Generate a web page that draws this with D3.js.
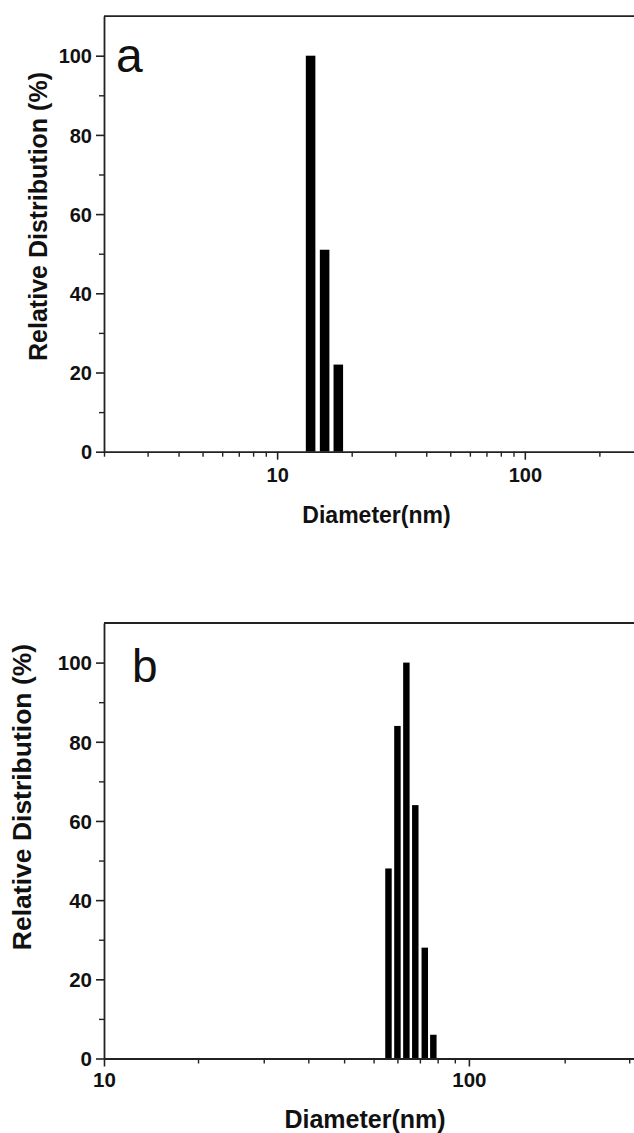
<!DOCTYPE html>
<html>
<head>
<meta charset="utf-8">
<script src="https://cdn.jsdelivr.net/npm/d3@7"></script>
<style>
  html, body { margin: 0; padding: 0; background: #fff; }
  svg { display: block; }
  text { font-family: "Liberation Sans", Arial, sans-serif; fill: #111; }
</style>
</head>
<body>
<script>
// ---------- data ----------
const panelA_diameter = [13.65, 15.55, 17.66];
const panelA_distribution = [100, 51, 22];
const panelB_diameter = [60.2, 63.7, 67.4, 71.3, 75.7, 79.9];
const panelB_distribution = [48, 84, 100, 64, 28, 6];

const yTicks = [0, 20, 40, 60, 80, 100];
const yMinorTicks = [10, 30, 50, 70, 90];

const panelA_xMajor = [10, 100];
const panelA_xMinor = [2, 3, 4, 5, 6, 7, 8, 9, 20, 30, 40, 50, 60, 70, 80, 90, 200];
const panelB_xMajor = [10, 100];
const panelB_xMinor = [18.1, 27.4, 36.3, 45.5, 54.8, 63.7, 73.4, 82.1, 91.5, 183, 275];

const xTitle = "Diameter(nm)";
const yTitle = "Relative Distribution (%)";

// ---------- layout ----------
const W = 634, H = 1133;
const svg = d3.select("body").append("svg").attr("width", W).attr("height", H);

const panels = [
  { letter: "a", diam: panelA_diameter, dist: panelA_distribution,
    xDomain: [2, 300], xMajor: panelA_xMajor, xMinor: panelA_xMinor,
    left: 104, right: 643, bottom: 451.7, top: 16.1,
    tickFont: 20, xLabelBase: 30, xTitleFont: 23, xTitlePos: [376.5, 523],
    yTitleFont: 25, yTitlePos: [47, 216.5],
    letterFont: 48, letterPos: [116, 72], barFrac: 0.69 },
  { letter: "b", diam: panelB_diameter, dist: panelB_distribution,
    xDomain: [10, 300], xMajor: panelB_xMajor, xMinor: panelB_xMinor,
    left: 104, right: 643, bottom: 1058.5, top: 623,
    tickFont: 20.5, xLabelBase: 28, xTitleFont: 25, xTitlePos: [365, 1128],
    yTitleFont: 26.5, yTitlePos: [31, 797],
    letterFont: 46, letterPos: [132, 682], barFrac: 0.72 }
];

const axisColor = "#222";

panels.forEach(p => {
  const x = d3.scaleLog().domain(p.xDomain).range([p.left, p.right]);
  const y = d3.scaleLinear().domain([0, 110]).range([p.bottom, p.top]);
  const g = svg.append("g");

  // bars
  const n = p.diam.length;
  const step = Math.log10(p.diam[n - 1] / p.diam[0]) / (n - 1);
  const half = p.barFrac * step / 2;
  const data = p.diam.map((d, i) => ({ d, v: p.dist[i] }));
  g.selectAll("rect.bar").data(data).enter().append("rect")
    .attr("class", "bar")
    .attr("x", e => x(e.d * Math.pow(10, -half)))
    .attr("width", e => x(e.d * Math.pow(10, half)) - x(e.d * Math.pow(10, -half)))
    .attr("y", e => y(e.v))
    .attr("height", e => y(0) - y(e.v))
    .attr("fill", "#000");

  // x axis: minor ticks
  const xMinorAxis = d3.axisBottom(x).tickValues(p.xMinor).tickSize(5).tickSizeOuter(0).tickFormat("");
  const gxm = g.append("g").attr("transform", `translate(0,${p.bottom})`).call(xMinorAxis);
  gxm.select(".domain").remove();
  gxm.selectAll("line").attr("stroke", axisColor).attr("stroke-width", 1.4);

  // x axis: major ticks + labels
  const xAxis = d3.axisBottom(x).tickValues(p.xMajor).tickSize(8).tickSizeOuter(0)
    .tickFormat(d3.format("d"));
  const gx = g.append("g").attr("transform", `translate(0,${p.bottom})`).call(xAxis);
  gx.select(".domain").attr("stroke", axisColor).attr("stroke-width", 1.8);
  gx.selectAll("line").attr("stroke", axisColor).attr("stroke-width", 1.6);
  gx.selectAll("text")
    .attr("y", p.xLabelBase).attr("dy", null)
    .style("font-size", p.tickFont + "px").style("font-weight", "bold")
    .style("font-family", "'Liberation Sans', Arial, sans-serif").attr("fill", "#111");

  // y axis: minor ticks
  const yMinorAxis = d3.axisLeft(y).tickValues(yMinorTicks).tickSize(5).tickSizeOuter(0).tickFormat("");
  const gym = g.append("g").attr("transform", `translate(${p.left},0)`).call(yMinorAxis);
  gym.select(".domain").remove();
  gym.selectAll("line").attr("stroke", axisColor).attr("stroke-width", 1.4);

  // y axis: major
  const yAxis = d3.axisLeft(y).tickValues(yTicks).tickSize(8).tickSizeOuter(0).tickPadding(4);
  const gy = g.append("g").attr("transform", `translate(${p.left},0)`).call(yAxis);
  gy.select(".domain").attr("stroke", axisColor).attr("stroke-width", 1.8);
  gy.selectAll("line").attr("stroke", axisColor).attr("stroke-width", 1.6);
  gy.selectAll("text")
    .attr("dy", "0.36em")
    .style("font-size", p.tickFont + "px").style("font-weight", "bold")
    .style("font-family", "'Liberation Sans', Arial, sans-serif").attr("fill", "#111");

  // top frame line
  g.append("line")
    .attr("x1", x.range()[0]).attr("x2", x.range()[1])
    .attr("y1", y(110)).attr("y2", y(110))
    .attr("stroke", axisColor).attr("stroke-width", 1.8);

  // panel letter
  g.append("text").text(p.letter)
    .attr("x", p.letterPos[0]).attr("y", p.letterPos[1])
    .style("font-size", p.letterFont + "px");

  // axis titles
  g.append("text").text(xTitle)
    .attr("x", p.xTitlePos[0]).attr("y", p.xTitlePos[1])
    .attr("text-anchor", "middle")
    .style("font-size", p.xTitleFont + "px").style("font-weight", "bold");

  g.append("text").text(yTitle)
    .attr("transform", `translate(${p.yTitlePos[0]},${p.yTitlePos[1]}) rotate(-90)`)
    .attr("text-anchor", "middle")
    .style("font-size", p.yTitleFont + "px").style("font-weight", "bold");
});
</script>
</body>
</html>
